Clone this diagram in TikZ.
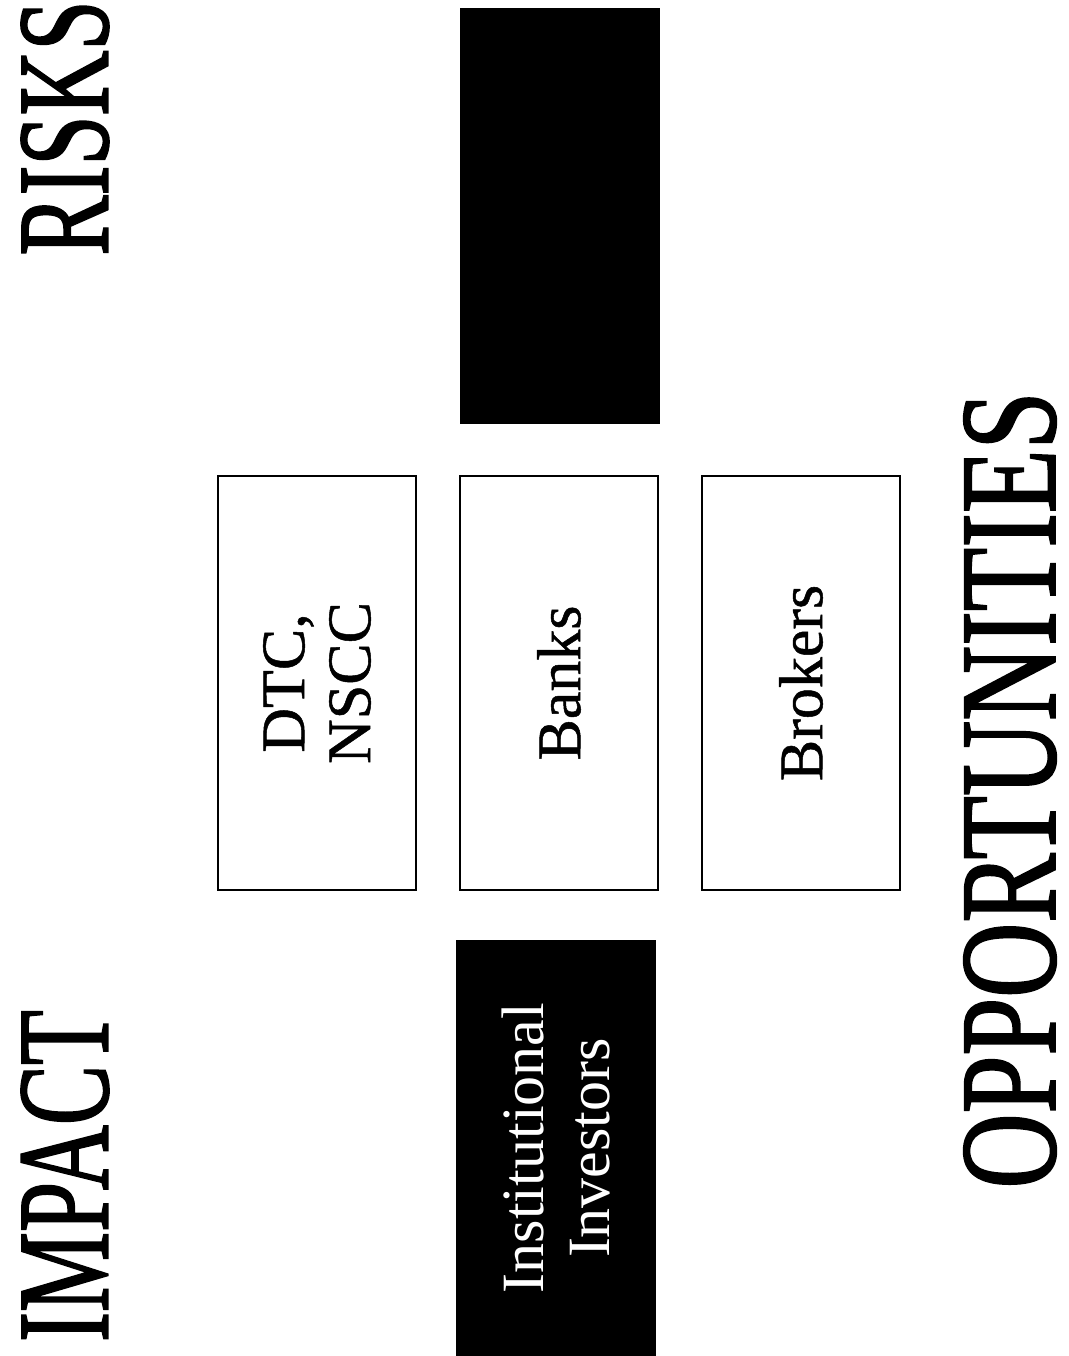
\documentclass[tikz,border=0pt]{standalone}
\usepackage{fontspec}
\setmainfont{Liberation Serif}
\newfontfamily\titlefont[FakeBold=1.6]{Liberation Serif}
\newfontfamily\boxfont[FakeBold=0.8]{Liberation Serif}
\usepackage{graphicx}
\begin{document}
\begin{tikzpicture}[x=1pt,y=-1pt,
  title/.style={rotate=90, inner sep=0pt, font=\titlefont\fontsize{90}{90}\selectfont},
  wbox/.style={rotate=90, draw=black, line width=1.8pt, fill=white,
    minimum width=414pt, minimum height=198pt, inner sep=0pt, align=center,
    font=\boxfont\fontsize{62}{66}\selectfont},
  bbox/.style={wbox, fill=black, text=white, font=\rmfamily\fontsize{60}{66}\selectfont}]
\useasboundingbox (0,0) rectangle (1068,1356);
\fill[white] (0,0) rectangle (1068,1356);
\node[title] (impact) at (65,1176) {\scalebox{1}[1.45]{IMPACT}};
\node[title] (risks) at (65,128) {\scalebox{1}[1.45]{RISKS}};
\node[title, font=\titlefont\fontsize{104}{104}\selectfont] (opp) at (1010,790) {\scalebox{1}[1.32]{OPPORTUNITIES}};
\node[bbox] (risk) at (560,216) {};
\node[wbox] (dtc) at (317,683) {DTC,\\NSCC};
\node[wbox] (banks) at (559,683) {Banks};
\node[wbox] (brokers) at (801,683) {Brokers};
\node[bbox] (inst) at (556,1148) {Institutional\\Investors};
\end{tikzpicture}
\end{document}
